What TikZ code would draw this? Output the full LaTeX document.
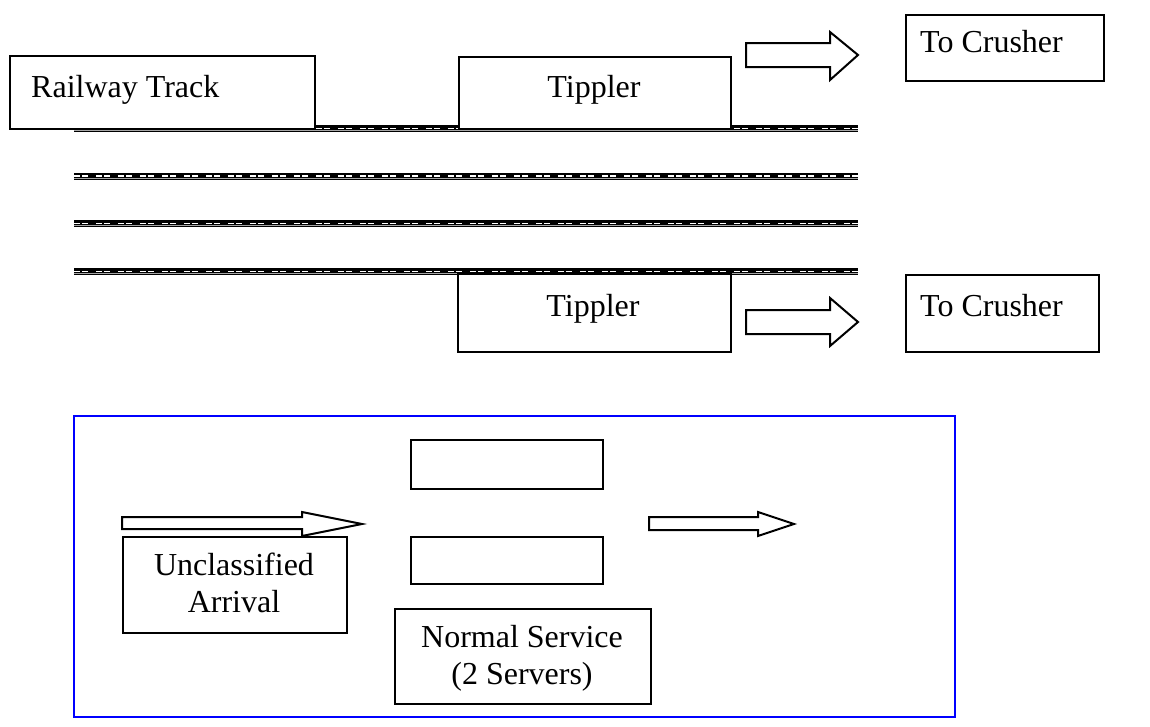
\documentclass[tikz,border=0pt]{standalone}
\usepackage{fontspec}
\setmainfont{Liberation Serif}
\begin{document}
\begin{tikzpicture}[x=1pt,y=-1pt,
  box/.style={draw=black,fill=white,line width=2pt,inner sep=0pt,anchor=north west},
  bluebox/.style={draw=blue,line width=2pt,inner sep=0pt,anchor=north west},
  lbl/.style={inner sep=0pt,font=\fontsize{32}{37}\selectfont},
  blockarrow/.style={draw=black,fill=white,line width=2pt,line join=miter},
  railbase/.style={line width=7pt,black},
  railgap/.style={line width=0.8pt,gray!70},
  raildash/.style={line width=1.5pt,white,dash pattern=on 6pt off 2pt on 6pt off 8pt}]
\useasboundingbox (0,0) rectangle (1150,726);
% tracks
\foreach \y/\n in {128.5/1,176/2,223.8/3,271.5/4}{
  \coordinate (tl\n) at (74,\y);
  \coordinate (tr\n) at (858,\y);
  \draw[railbase] (tl\n) -- (tr\n);
  \draw[railgap] ([yshift=-1.9pt]tl\n) -- ([yshift=-1.9pt]tr\n);
  \draw[raildash] ([yshift=0.1pt]tl\n) -- ([yshift=0.1pt]tr\n);
}
% top boxes
\node[box,minimum width=305,minimum height=73] (rail) at (9,55) {};
\node[lbl,anchor=base west] (railtxt) at (31,97) {Railway Track};
\node[box,minimum width=272,minimum height=72] (tip1) at (458,56) {};
\node[lbl,anchor=base] (tip1txt) at (594,97) {Tippler};
\node[box,minimum width=198,minimum height=66] (cr1) at (905,14) {};
\node[lbl,anchor=base west] (cr1txt) at (920,52) {To Crusher};
\draw[blockarrow] (746,43) -- (830,43) -- (830,32) -- (858,55) -- (830,80) -- (830,67) -- (746,67) -- cycle;
% lower tippler
\node[box,minimum width=273,minimum height=78] (tip2) at (457,273) {};
\node[lbl,anchor=base] (tip2txt) at (593,316) {Tippler};
\node[box,minimum width=193,minimum height=77] (cr2) at (905,274) {};
\node[lbl,anchor=base west] (cr2txt) at (920,316) {To Crusher};
\draw[blockarrow] (746,310) -- (830,310) -- (830,298) -- (858,322) -- (830,346) -- (830,334) -- (746,334) -- cycle;
% bottom panel
\node[bluebox,minimum width=881,minimum height=301] (panel) at (73,415) {};
\node[box,minimum width=192,minimum height=49] (srv1) at (410,439) {};
\node[box,minimum width=192,minimum height=47] (srv2) at (410,536) {};
\draw[blockarrow] (122,517) -- (302,517) -- (302,512) -- (362,524) -- (302,536) -- (302,529) -- (122,529) -- cycle;
\draw[blockarrow] (649,517) -- (758,517) -- (758,512) -- (794,524) -- (758,536) -- (758,530) -- (649,530) -- cycle;
\node[box,minimum width=224,minimum height=96] (arr) at (122,536) {};
\node[lbl,anchor=base] (arrtxt1) at (234,575) {Unclassified};
\node[lbl,anchor=base] (arrtxt2) at (234,612) {Arrival};
\node[box,minimum width=256,minimum height=95] (ns) at (394,608) {};
\node[lbl,anchor=base] (nstxt1) at (522,647) {Normal Service};
\node[lbl,anchor=base] (nstxt2) at (522,684) {(2 Servers)};
\end{tikzpicture}
\end{document}
